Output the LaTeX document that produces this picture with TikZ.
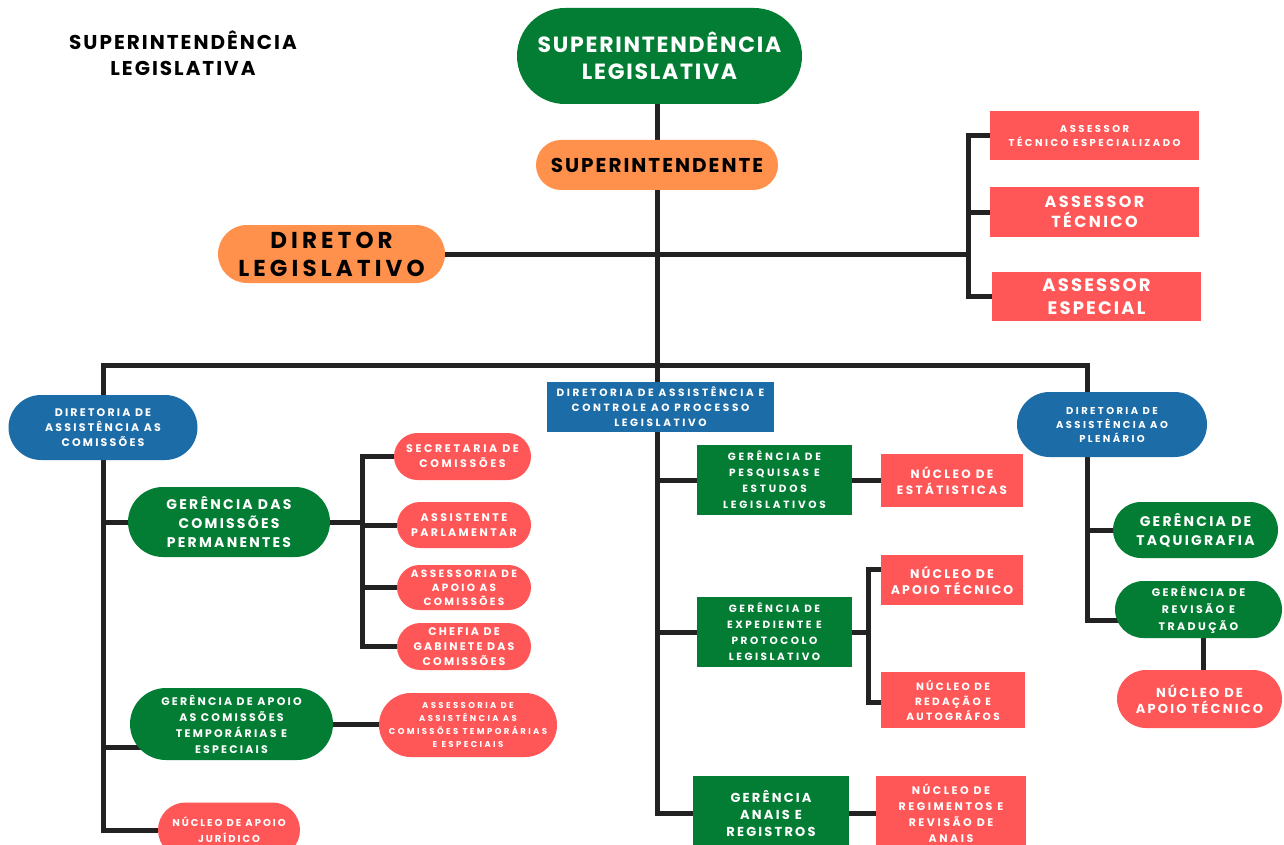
\documentclass[tikz,border=0pt]{standalone}
\usepackage{fontspec}
\setmainfont{Poppins}
\usetikzlibrary{shapes.misc}
\definecolor{grn}{RGB}{3,125,52}
\definecolor{org}{RGB}{255,145,77}
\definecolor{rd}{RGB}{255,87,87}
\definecolor{blu}{RGB}{28,108,168}
\definecolor{ln}{RGB}{34,34,34}
% size, line height, letter spacing (percent of em)
\newcommand\orglbl[3]{\bfseries\fontsize{#1}{#2}\selectfont\addfontfeature{LetterSpace=#3}}
\pgfdeclarelayer{paper}
\pgfdeclarelayer{wires}
\pgfsetlayers{paper,wires,main}
\begin{document}
\begin{tikzpicture}[x=1pt,y=-1pt,
  unit/.style={inner sep=0pt, outer sep=0pt, align=center, text=white},
  pill/.style={unit, rounded rectangle},
  block/.style={unit, rectangle},
  wire/.style={draw=ln, line width=5pt}]
\begin{pgfonlayer}{paper}
  \fill[white] (0,0) rectangle (1284,845);
\end{pgfonlayer}
\useasboundingbox (0,0) rectangle (1284,845);

% heading
\node[align=center, text=black, inner sep=0pt, font=\orglbl{20}{26}{10}] (title) at (183,53) {SUPERINTENDÊNCIA\\LEGISLATIVA};

% top of the hierarchy
\node[pill, fill=grn, minimum width=285pt, minimum height=96pt, font=\orglbl{22}{27}{8}] (sup) at (659.5,56) {SUPERINTENDÊNCIA\\LEGISLATIVA};
\node[pill, fill=org, text=black, minimum width=242pt, minimum height=50pt, font=\orglbl{20}{24}{10}] (supt) at (657,165) {SUPERINTENDENTE};
\node[pill, fill=org, text=black, minimum width=227pt, minimum height=58pt, font=\orglbl{23}{28}{18}] (dir) at (331.5,254) {DIRETOR\\LEGISLATIVO};

% advisers
\node[block, fill=rd, minimum width=209pt, minimum height=49pt, font=\orglbl{10}{14}{25}] (as1) at (1094.5,135.5) {ASSESSOR\\TÉCNICO ESPECIALIZADO};
\node[block, fill=rd, minimum width=209pt, minimum height=50pt, font=\orglbl{16}{20}{15}] (as2) at (1094.5,212) {ASSESSOR\\TÉCNICO};
\node[block, fill=rd, minimum width=209pt, minimum height=49pt, font=\orglbl{18}{23}{12}] (as3) at (1096.5,296.5) {ASSESSOR\\ESPECIAL};

% committees branch
\node[pill, fill=blu, minimum width=189pt, minimum height=65pt, font=\orglbl{11}{15}{20}] (dac) at (103,427.5) {DIRETORIA DE\\ASSISTÊNCIA AS\\COMISSÕES};
\node[pill, fill=grn, minimum width=202pt, minimum height=70pt, font=\orglbl{14}{19}{16}] (gcp) at (229,522) {GERÊNCIA DAS\\COMISSÕES\\PERMANENTES};
\node[pill, fill=rd, minimum width=137pt, minimum height=47pt, font=\orglbl{11}{15}{24}] (sec) at (462.5,456.5) {SECRETARIA DE\\COMISSÕES};
\node[pill, fill=rd, minimum width=134pt, minimum height=46pt, font=\orglbl{11}{15}{22}] (ast) at (464,525) {ASSISTENTE\\PARLAMENTAR};
\node[pill, fill=rd, minimum width=134pt, minimum height=45pt, font=\orglbl{10.5}{14}{22}] (aap) at (464,587.5) {ASSESSORIA DE\\APOIO AS\\COMISSÕES};
\node[pill, fill=rd, minimum width=134pt, minimum height=47pt, font=\orglbl{11}{15}{20}] (chf) at (464,646.5) {CHEFIA DE\\GABINETE DAS\\COMISSÕES};
\node[pill, fill=grn, minimum width=203pt, minimum height=72pt, font=\orglbl{11}{16}{20}] (gap) at (231.5,724) {GERÊNCIA DE APOIO\\AS COMISSÕES\\TEMPORÁRIAS E\\ESPECIAIS};
\node[pill, fill=rd, minimum width=178pt, minimum height=64pt, font=\orglbl{8.5}{13}{28}] (aat) at (468,725) {ASSESSORIA DE\\ASSISTÊNCIA AS\\COMISSÕES TEMPORÁRIAS\\E ESPECIAIS};
\node[pill, fill=rd, minimum width=142pt, minimum height=55pt, font=\orglbl{10}{16}{20}] (naj) at (229,830) {NÚCLEO DE APOIO\\JURÍDICO};

% legislative process branch
\node[block, fill=blu, minimum width=227pt, minimum height=50pt, font=\orglbl{10.5}{15}{25}] (dacp) at (660.5,407) {DIRETORIA DE ASSISTÊNCIA E\\CONTROLE AO PROCESSO\\LEGISLATIVO};
\node[block, fill=grn, minimum width=155pt, minimum height=70pt, font=\orglbl{10.5}{16}{26}] (gpe) at (774.5,480) {GERÊNCIA DE\\PESQUISAS E\\ESTUDOS\\LEGISLATIVOS};
\node[block, fill=rd, minimum width=142pt, minimum height=53pt, font=\orglbl{12}{16}{20}] (nes) at (952,480.5) {NÚCLEO DE\\ESTÁTISTICAS};
\node[block, fill=rd, minimum width=142pt, minimum height=50pt, font=\orglbl{12.5}{16}{17}] (nat1) at (952,580) {NÚCLEO DE\\APOIO TÉCNICO};
\node[block, fill=grn, minimum width=155pt, minimum height=70pt, font=\orglbl{10.5}{16}{24}] (gep) at (774.5,632) {GERÊNCIA DE\\EXPEDIENTE E\\PROTOCOLO\\LEGISLATIVO};
\node[block, fill=rd, minimum width=144pt, minimum height=56pt, font=\orglbl{10.5}{15}{22}] (nra) at (953,700) {NÚCLEO DE\\REDAÇÃO E\\AUTOGRÁFOS};
\node[block, fill=grn, minimum width=156pt, minimum height=74pt, font=\orglbl{13}{17}{17}] (gar) at (771,813) {GERÊNCIA\\ANAIS E\\REGISTROS};
\node[block, fill=rd, minimum width=150pt, minimum height=74pt, font=\orglbl{11}{16}{23}] (nrg) at (951,813) {NÚCLEO DE\\REGIMENTOS E\\REVISÃO DE\\ANAIS};

% plenary branch
\node[pill, fill=blu, minimum width=190pt, minimum height=65pt, font=\orglbl{10}{14}{24}] (dap) at (1112,424.5) {DIRETORIA DE\\ASSISTÊNCIA AO\\PLENÁRIO};
\node[pill, fill=grn, minimum width=165pt, minimum height=56pt, font=\orglbl{14}{19}{16}] (gtq) at (1195.5,530) {GERÊNCIA DE\\TAQUIGRAFIA};
\node[pill, fill=grn, minimum width=167pt, minimum height=57pt, font=\orglbl{11}{17}{22}] (grt) at (1198.5,609.5) {GERÊNCIA DE\\REVISÃO E\\TRADUÇÃO};
\node[pill, fill=rd, minimum width=165pt, minimum height=58pt, font=\orglbl{13}{16}{17}] (nat2) at (1199.5,699) {NÚCLEO DE\\APOIO TÉCNICO};

% junction points
\coordinate (lft) at (103,365);
\coordinate (rgt) at (1087,365);
\coordinate (asb) at (968,254);
\coordinate (cbx) at (362,521);
\coordinate (brT) at (868,569);
\coordinate (brB) at (868,702);
\coordinate (gapk) at (103,747);
\coordinate (rb) at (1087,620);
\coordinate (rk) at (1203,640);

\begin{pgfonlayer}{wires}
  % main spine
  \draw[wire] (sup.south -| supt.center) -- (gar.west -| supt.center) -- (gar.west);
  \draw[wire] (gpe.west -| supt.center) -- (gpe.west);
  \draw[wire] (gep.west -| supt.center) -- (gep.west);
  % advisers
  \draw[wire] (dir.east) -- (asb);
  \draw[wire] (as1.west) -- (as1.west -| asb) -- (as3.west -| asb) -- (as3.west);
  \draw[wire] (as2.west) -- (as2.west -| asb);
  % directorates
  \draw[wire] (dac.north) -- (lft) -- (rgt) -- (rgt |- dap.north);
  % committees
  \draw[wire] (dac.south) -- (dac.south |- naj.west) -- (naj.west);
  \draw[wire] (gcp.west -| dac.south) -- (gcp.west);
  \draw[wire] (gapk) -- (gapk -| gap.center);
  \draw[wire] (gcp.east) -- (gcp.east -| cbx);
  \draw[wire] (sec.west) -- (sec.west -| cbx) -- (chf.west -| cbx) -- (chf.west);
  \draw[wire] (ast.west) -- (ast.west -| cbx);
  \draw[wire] (aap.west) -- (aap.west -| cbx);
  \draw[wire] (gap.east) -- (gap.east -| aat.west);
  % legislative process
  \draw[wire] (gpe.east) -- (gpe.east -| nes.west);
  \draw[wire] (gep.east) -- (gep.east -| brT);
  \draw[wire] (brT -| nat1.west) -- (brT) -- (brB) -- (brB -| nra.west);
  \draw[wire] (gar.east) -- (gar.east -| nrg.west);
  % plenary
  \draw[wire] (rgt |- dap.south) -- (rb) -- (rb -| grt.center);
  \draw[wire] (rgt |- gtq.center) -- (gtq.center);
  \draw[wire] (grt.center -| rk) -- (nat2.center -| rk);
\end{pgfonlayer}
\end{tikzpicture}
\end{document}
